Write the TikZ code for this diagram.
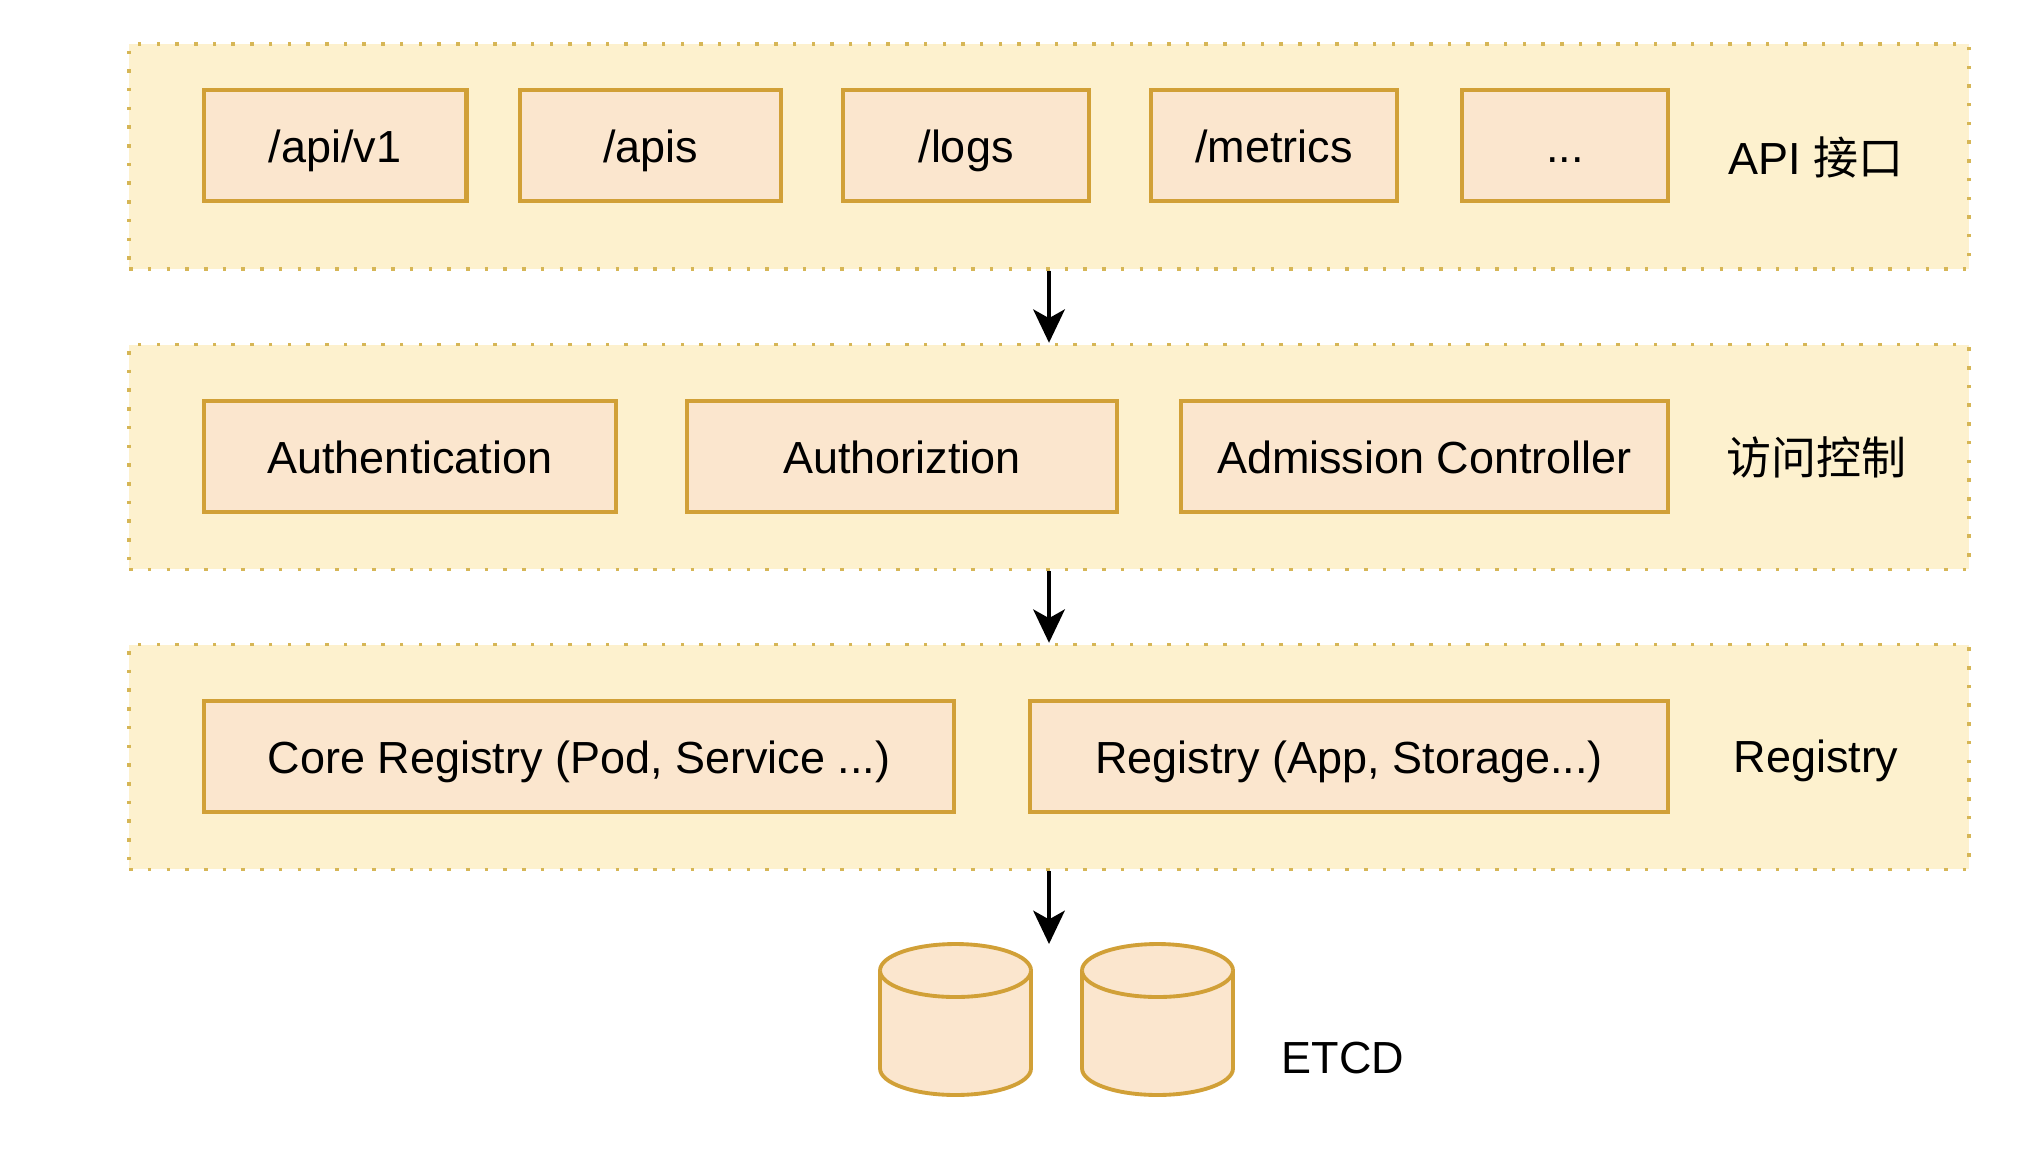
\documentclass[tikz,border=0pt]{standalone}
\usepackage{fontspec}
\setmainfont{Liberation Sans}
\newfontfamily\cjk{Noto Sans CJK SC}
\usetikzlibrary{arrows.meta}
\definecolor{layerfill}{HTML}{FDF1CE}
\definecolor{layerline}{HTML}{D6B656}
\definecolor{boxfill}{HTML}{FBE6CE}
\definecolor{boxline}{HTML}{D1A037}
\tikzset{
	pics/etcddb/.style={code={
		\draw[dbline] (-1.51cm,0.98cm) arc[start angle=180, end angle=0, x radius=1.51cm, y radius=0.53cm]
			-- (1.51cm,-0.98cm) arc[start angle=0, end angle=-180, x radius=1.51cm, y radius=0.53cm] -- cycle;
		\draw[dbline] (-1.51cm,0.98cm) arc[start angle=180, end angle=360, x radius=1.51cm, y radius=0.53cm];
	}}
}
\begin{document}
\begin{tikzpicture}[
	x=0.02cm, y=-0.02cm,
	every node/.style={font=\fontsize{25.6}{30}\selectfont, text height=19.8pt, text depth=0pt},
	layer/.style={fill=layerfill, draw=layerline, line width=2pt, dash pattern=on 2pt off 8.65pt, minimum width=36.8cm, minimum height=4.5cm, inner sep=0pt},
	box/.style={draw=boxline, fill=boxfill, line width=2.3pt, minimum height=2.23cm, inner sep=0pt, align=center},
	dbline/.style={draw=boxline, fill=boxfill, line width=2.2pt},
	flow/.style={-{Stealth[length=19pt, width=18pt, inset=5pt]}, line width=1.9pt}
	]
	\useasboundingbox (0,0) rectangle (2044,1150);
	
	% API
	\node (api_layer) [layer] at (1049,156.5) {};
	\node (api_v1) [box, minimum width=5.26cm] at (335,145.5) {/api/v1};
	\node (apis) [box, minimum width=5.22cm] at (650.5,145.5) {/apis};
	\node (logs) [box, minimum width=4.92cm] at (966,145.5) {/logs};
	\node (metrics) [box, minimum width=4.92cm] at (1274,145.5) {/metrics};
	\node (more) [box, minimum width=4.12cm] at (1565,145.5) {...};
	\node (api_label) at (1816,156.7) {API {\cjk 接口}};
	
	% Access control
	\node (access_layer) [layer] at (1049,457) {};
	\node (authn) [box, minimum width=8.24cm] at (410,456.5) {Authentication};
	\node (authz) [box, minimum width=8.6cm] at (902,456.5) {Authoriztion};
	\node (admission) [box, minimum width=9.74cm] at (1424.5,456.5) {Admission Controller};
	\node (access_label) at (1816,456.7) {\cjk 访问控制};
	
	% Registry
	\node (registry_layer) [layer] at (1049,757) {};
	\node (core) [box, minimum width=15cm] at (579,756.5) {Core Registry (Pod, Service ...)};
	\node (registry) [box, minimum width=12.76cm] at (1349,756.5) {Registry (App, Storage...)};
	\node (registry_label) at (1816,755.5) {Registry};
	
	% ETCD
	\pic (etcd_a) at (955.5,1019.5) {etcddb};
	\pic (etcd_b) at (1157.5,1019.5) {etcddb};
	\node (etcd_label) at (1343,1056) {ETCD};
	\coordinate (etcd_top) at (1049,944);
	
	\draw[flow] (api_layer.south) -- (access_layer.north);
	\draw[flow] (access_layer.south) -- (registry_layer.north);
	\draw[flow] (registry_layer.south) -- (etcd_top);
\end{tikzpicture}
\end{document}
